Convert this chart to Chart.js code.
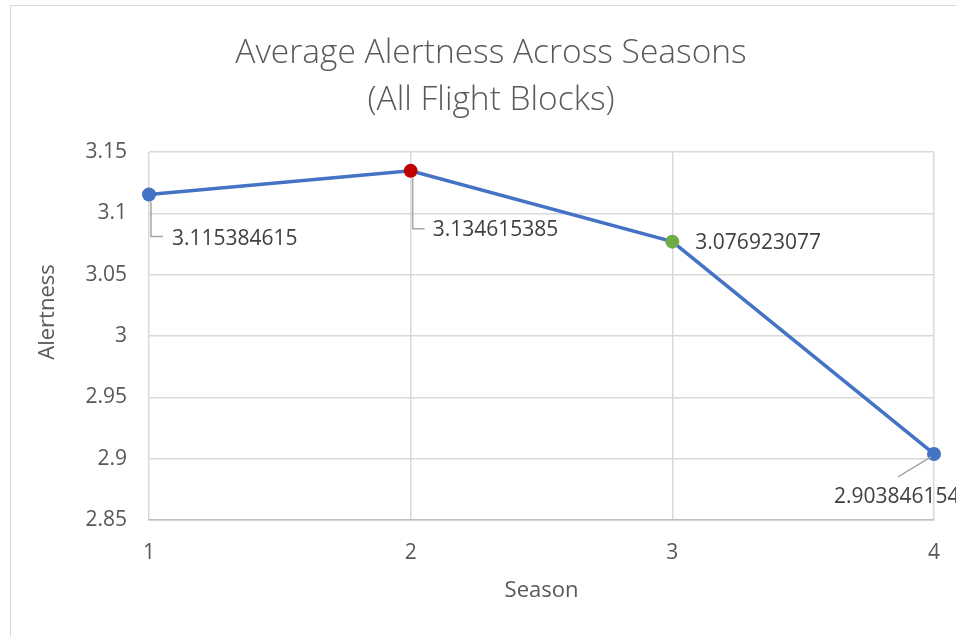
<!DOCTYPE html>
<html>
<head>
<meta charset="utf-8">
<script src="https://cdn.jsdelivr.net/npm/chart.js@4.4.0/dist/chart.umd.min.js"></script>
<style>
  html, body { margin: 0; padding: 0; background: #fff; overflow: hidden; width: 956px; height: 637px; }
  #marco { position: absolute; left: 10px; top: 5px; width: 960px; height: 631px;
           border-left: 1px solid #d9d9d9; border-top: 1px solid #d9d9d9; }
  canvas { display: block; }
</style>
</head>
<body>
<div id="marco"><canvas id="grafico" width="960" height="631"></canvas></div>
<script>
// Datos
const estaciones = [1, 2, 3, 4];
const alerta = [3.115384615, 3.134615385, 3.076923077, 2.903846154];
const etiquetas = ['3.115384615', '3.134615385', '3.076923077', '2.903846154'];
const coloresPunto = ['#4472c4', '#c00000', '#70ad47', '#4472c4'];
const titulo = ['Average Alertness Across Seasons', '(All Flight Blocks)'];

const fuente = '"Open Sans", "Noto Sans", sans-serif';
const gris = '#595959';

// Posición de cada etiqueta respecto a su punto (dx, dy) y línea guía
const colocacion = [
  { dx: 23, dy: 45, guia: [[2, 7], [2, 42], [14, 42]] },
  { dx: 22, dy: 59, guia: [[2, 7], [2, 58], [14, 58]] },
  { dx: 23, dy: 1, guia: null },
  { dx: -100, dy: 43, guia: [[-3, 3], [-36, 23]] }
];

const etiquetasDatos = {
  id: 'etiquetasDatos',
  afterDatasetsDraw(chart) {
    const ctx = chart.ctx;
    const meta = chart.getDatasetMeta(0);
    ctx.save();
    meta.data.forEach((p, i) => {
      const c = colocacion[i];
      if (c.guia) {
        ctx.strokeStyle = '#a6a6a6';
        ctx.lineWidth = 1.5;
        ctx.beginPath();
        c.guia.forEach(([gx, gy], k) => {
          if (k === 0) ctx.moveTo(p.x + gx, p.y + gy);
          else ctx.lineTo(p.x + gx, p.y + gy);
        });
        ctx.stroke();
      }
      ctx.fillStyle = '#404040';
      ctx.font = '21px ' + fuente;
      ctx.textAlign = 'left';
      ctx.textBaseline = 'middle';
      ctx.fillText(etiquetas[i], p.x + c.dx, p.y + c.dy);
    });
    ctx.restore();
  }
};

// Título del eje Y (Excel no lo centra exactamente en el área)
const tituloEjeY = {
  id: 'tituloEjeY',
  afterDraw(chart) {
    const ctx = chart.ctx;
    ctx.save();
    ctx.translate(37, 306);
    ctx.rotate(-Math.PI / 2);
    ctx.fillStyle = gris;
    ctx.font = '22px ' + fuente;
    ctx.textAlign = 'center';
    ctx.textBaseline = 'middle';
    ctx.fillText('Alertness', 0, 0);
    ctx.restore();
  }
};

new Chart(document.getElementById('grafico'), {
  type: 'line',
  data: {
    labels: estaciones,
    datasets: [{
      data: estaciones.map((x, i) => ({ x, y: alerta[i] })),
      borderColor: '#4472c4',
      borderWidth: 3.5,
      pointBackgroundColor: coloresPunto,
      pointBorderColor: coloresPunto,
      pointRadius: 7,
      pointBorderWidth: 0,
      tension: 0,
      clip: false
    }]
  },
  options: {
    responsive: false,
    animation: false,
    layout: { padding: 0 },
    plugins: {
      legend: { display: false },
      tooltip: { enabled: false },
      title: {
        display: true,
        text: titulo,
        color: gris,
        font: { family: fuente, size: 33.5, weight: 300, lineHeight: 47 / 33.5 },
        padding: { top: 24, bottom: 28 }
      }
    },
    scales: {
      x: {
        type: 'linear',
        min: 1,
        max: 4,
        afterFit: s => { s.height = 117; },
        ticks: { stepSize: 1, color: gris, padding: 20, font: { family: fuente, size: 21 } },
        grid: { color: '#d9d9d9', lineWidth: 1.5, drawTicks: false },
        border: { color: '#bfbfbf', width: 1.5 },
        title: {
          display: true,
          text: 'Season',
          color: gris,
          font: { family: fuente, size: 22 },
          padding: { top: 0, bottom: 33 }
        }
      },
      y: {
        min: 2.85,
        max: 3.15,
        afterFit: s => { s.width = 138; },
        ticks: {
          stepSize: 0.05,
          color: gris,
          padding: 22,
          font: { family: fuente, size: 21 },
          callback: v => String(Math.round(v * 100) / 100)
        },
        grid: { color: '#d9d9d9', lineWidth: 1.5, drawTicks: false },
        border: { display: false }
      },
      // margen derecho vacío, para que el título quede centrado en todo el gráfico
      margen: {
        position: 'right',
        min: 2.85,
        max: 3.15,
        afterFit: s => { s.width = 37; },
        ticks: { display: false },
        grid: { display: false, drawTicks: false },
        border: { display: false }
      }
    }
  },
  plugins: [etiquetasDatos, tituloEjeY]
});
</script>
</body>
</html>
